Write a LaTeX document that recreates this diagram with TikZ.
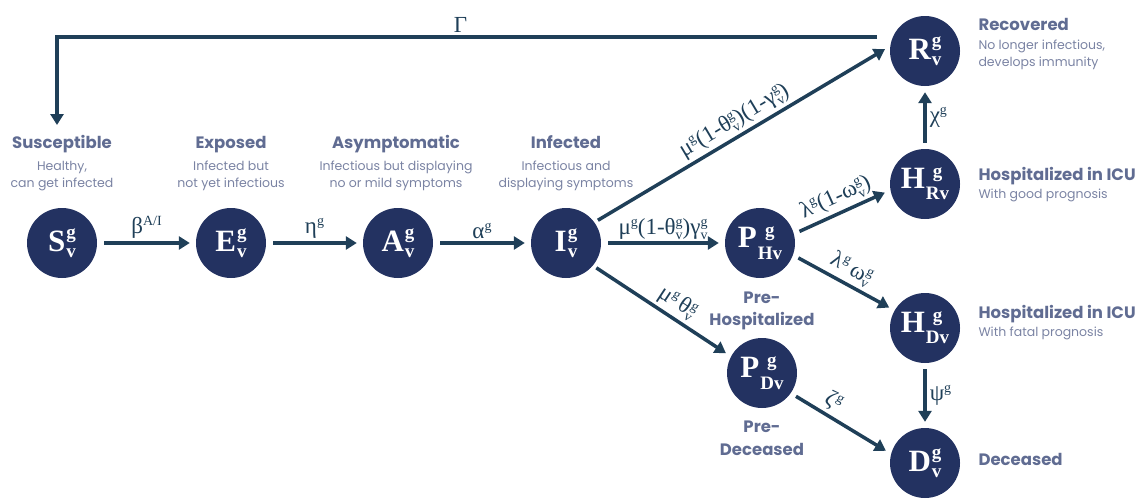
\documentclass[tikz,border=0pt]{standalone}
\usepackage{fontspec}
\setmainfont{Liberation Serif}
\setsansfont{Poppins}
\usetikzlibrary{arrows.meta}
\definecolor{navy}{RGB}{35,50,97}
\definecolor{arrowc}{RGB}{31,63,88}
\definecolor{titlec}{RGB}{96,108,146}
\definecolor{subc}{RGB}{122,131,163}
\newdimen\cmpw
\newcommand{\cmp}[5]{{\fontsize{31}{31}\selectfont #1}\kern1pt%
\setbox0=\hbox{\fontsize{19}{19}\selectfont #2}%
\setbox2=\hbox{\fontsize{19}{19}\selectfont #3}%
\ifdim\wd0>\wd2 \cmpw=\wd0 \else \cmpw=\wd2 \fi
\rlap{\hbox to\cmpw{\hss\raise#4\box0\hss}}\hbox to\cmpw{\hss\lower#5\box2\hss}}
\newcommand{\Sp}[1]{\raisebox{8pt}{\fontsize{14}{14}\selectfont #1}}
\newcommand{\SpSb}[2]{\rlap{\raisebox{8pt}{\fontsize{14}{14}\selectfont #1}}\raisebox{-5pt}{\fontsize{14}{14}\selectfont #2}}
\tikzset{
  comp/.style={circle, fill=navy, minimum size=70pt, inner sep=0pt, text=white, font=\bfseries},
  arr/.style={draw=arrowc, line width=3.5pt, -{Triangle[length=11pt,width=13pt]}, shorten <=6pt, shorten >=6pt},
  ttl/.style={text=titlec, font=\sffamily\bfseries\fontsize{16.5}{18}\selectfont, anchor=base},
  sub/.style={text=subc, font=\sffamily\fontsize{12.5}{15}\selectfont, anchor=base},
  lbl/.style={text=arrowc, font=\fontsize{23}{23}\selectfont, inner sep=3pt}
}
\begin{document}
\begin{tikzpicture}[x=1pt,y=-1pt]
\useasboundingbox (0,0) rectangle (1137,498);
% compartments
\node[comp] (S)  at (62,243)  {\cmp{S}{g}{v}{13pt}{6pt}};
\node[comp] (E)  at (231,243) {\cmp{E}{g}{v}{13pt}{6pt}};
\node[comp] (A)  at (398,243) {\cmp{A}{g}{v}{13pt}{6pt}};
\node[comp] (I)  at (566,243) {\cmp{I}{g}{v}{13pt}{6pt}};
\node[comp] (PH) at (760,243) {\cmp{P}{g}{Hv}{11pt}{12pt}};
\node[comp] (PD) at (762,373) {\cmp{P}{g}{Dv}{11pt}{12pt}};
\node[comp] (R)  at (925,51)  {\cmp{R}{g}{v}{13pt}{6pt}};
\node[comp] (HR) at (925,184) {\cmp{H}{g}{Rv}{11pt}{11pt}};
\node[comp] (HD) at (925,328) {\cmp{H}{g}{Dv}{11pt}{11pt}};
\node[comp] (D)  at (925,463) {\cmp{D}{g}{v}{13pt}{6pt}};
% titles top row
\node[ttl] (tS) at (62,148) {Susceptible};
\node[sub] (sS1) at (62,170) {Healthy,};
\node[sub] (sS2) at (62,187) {can get infected};
\node[ttl] (tE) at (231,148) {Exposed};
\node[sub] (sE1) at (231,170) {Infected but};
\node[sub] (sE2) at (231,187) {not yet infectious};
\node[ttl] (tA) at (396,148) {Asymptomatic};
\node[sub] (sA1) at (396,170) {Infectious but displaying};
\node[sub] (sA2) at (396,187) {no or mild symptoms};
\node[ttl] (tI) at (566,148) {Infected};
\node[sub] (sI1) at (566,170) {Infectious and};
\node[sub] (sI2) at (566,187) {displaying symptoms};
% right column
\node[ttl, anchor=base west] (tR) at (975,30) {Recovered};
\node[sub, anchor=base west] (sR1) at (975,49) {No longer infectious,};
\node[sub, anchor=base west] (sR2) at (975,66) {develops immunity};
\node[ttl, anchor=base west] (tHR) at (975,180) {Hospitalized in ICU};
\node[sub, anchor=base west] (sHR) at (975,198) {With good prognosis};
\node[ttl, anchor=base west] (tHD) at (975,318) {Hospitalized in ICU};
\node[sub, anchor=base west] (sHD) at (975,336) {With fatal prognosis};
\node[ttl, anchor=base west] (tD) at (975,465) {Deceased};
% pre labels
\node[ttl] (tPH1) at (762,303) {Pre-};
\node[ttl] (tPH2) at (762,325) {Hospitalized};
\node[ttl] (tPD1) at (762,432) {Pre-};
\node[ttl] (tPD2) at (762,455) {Deceased};
% arrows
\draw[arr, shorten <=7pt] (S) -- node[lbl, above] {β\Sp{A/I}} (E);
\draw[arr, shorten <=7pt] (E) -- node[lbl, above] {η\Sp{g}} (A);
\draw[arr, shorten <=7pt] (A) -- node[lbl, above] {α\Sp{g}} (I);
\draw[arr, shorten <=7pt] (I) -- node[lbl, above, inner sep=2pt] {μ\Sp{g}(1-θ\SpSb{g}{v})γ\SpSb{g}{v}} (PH);
\draw[arr, shorten <=4pt] (I.36) -- node[lbl, above, sloped, pos=0.5] {μ\Sp{g}(1-θ\SpSb{g}{v})(1-γ\SpSb{g}{v})} (R.172);
\draw[arr, shorten <=4pt] (I.-40) -- node[lbl, above, sloped, pos=0.55] {μ\Sp{g}\,θ\SpSb{g}{v}} (PD.152);
\draw[arr] (PH.15) -- node[lbl, above, sloped] {λ\Sp{g}(1-ω\SpSb{g}{v})} (HR.190);
\draw[arr] (PH.-20) -- node[lbl, above, sloped] {λ\Sp{g}\,ω\SpSb{g}{v}} (HD.150);
\draw[arr] (PD.-35) -- node[lbl, above, sloped, pos=0.35] {ζ\Sp{g}} (D.165);
\draw[arr] (HR) -- node[lbl, right] {χ\Sp{g}} (R);
\draw[arr] (HD) -- node[lbl, right] {ψ\Sp{g}} (D);
\coordinate (Gs) at (877,37);
\coordinate (Ge) at (57,125);
\draw[arr, shorten <=0pt, shorten >=0pt] (Gs) -| node[lbl, above, pos=0.254] {Γ} (Ge);
\end{tikzpicture}
\end{document}
